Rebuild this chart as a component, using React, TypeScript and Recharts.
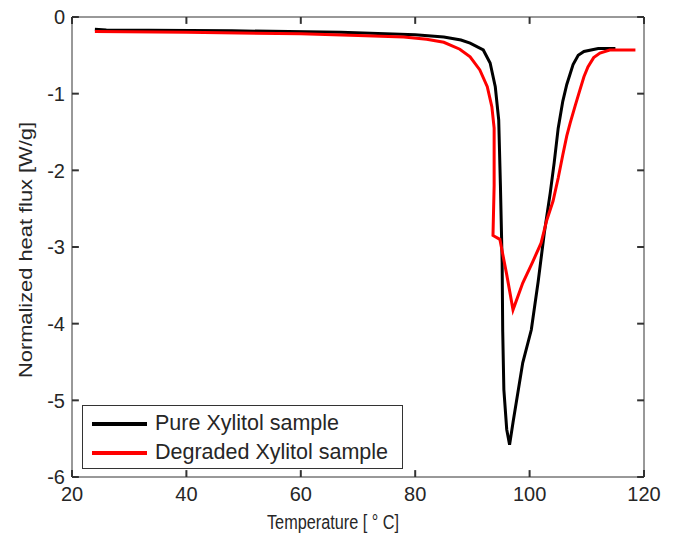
import { LineChart, Line, XAxis, YAxis, ReferenceLine } from "recharts";

const xTicks = [20, 40, 60, 80, 100, 120];
const yTicks = [-6, -5, -4, -3, -2, -1, 0];

// Pure Xylitol sample (black)
const pureTemp = [24, 26, 48, 67, 80, 85, 88, 89.6, 91.9, 93.1, 94.0, 94.6, 94.9, 95.2, 95.3, 95.5, 96.0, 96.5, 97.1, 98.8, 100.3, 101.5, 102.6, 103.6, 104.3, 105.0, 105.8, 106.5, 107.6, 108.5, 109.5, 112, 115];
const pureFlux = [-0.16, -0.17, -0.18, -0.2, -0.23, -0.26, -0.3, -0.34, -0.43, -0.6, -0.91, -1.34, -2.2, -3.2, -4.1, -4.86, -5.38, -5.58, -5.29, -4.51, -4.08, -3.45, -2.8, -2.3, -1.9, -1.45, -1.1, -0.88, -0.62, -0.5, -0.45, -0.41, -0.41];

// Degraded Xylitol sample (red)
const degTemp = [24, 40, 60, 70, 78, 82, 85, 87.8, 89.6, 91.3, 92.6, 93.4, 93.8, 93.8, 93.6, 94.8, 96.0, 97.1, 98.8, 100.5, 102.0, 103.0, 104.1, 105.0, 105.8, 106.5, 107.1, 108.0, 108.8, 109.5, 110.2, 111.2, 112.3, 114, 118.5];
const degFlux = [-0.19, -0.2, -0.22, -0.24, -0.26, -0.29, -0.33, -0.42, -0.52, -0.69, -0.91, -1.17, -1.45, -2.2, -2.85, -2.9, -3.36, -3.82, -3.47, -3.2, -2.95, -2.65, -2.4, -2.1, -1.8, -1.55, -1.38, -1.15, -0.95, -0.78, -0.65, -0.53, -0.47, -0.43, -0.43];

const seriesNames = ["Pure Xylitol sample", "Degraded Xylitol sample"];
const seriesColors = ["#000000", "#ff0000"];

const pureData = pureTemp.map((t, i) => ({ t, v: pureFlux[i] }));
const degData = degTemp.map((t, i) => ({ t, v: degFlux[i] }));

const FONT = "'Liberation Sans', Arial, sans-serif";
const AXIS = "#333333";
const TEXT = "#262626";
const X_MARGIN = 10;
const Y_MARGIN = 7;
// inward tick length expressed in axis units (about 7px each way)
const TICK_DX = 1.2;
const TICK_DY = 0.09;

function BottomTick({ x, y, payload }: any) {
  return (
    <text x={x} y={y} dy="0.72em" textAnchor="middle" fill={TEXT} fontSize={20} fontFamily={FONT}>
      {payload.value}
    </text>
  );
}

function LeftTick({ x, y, payload }: any) {
  return (
    <text x={x} y={y} dy="0.36em" textAnchor="end" fill={TEXT} fontSize={20} fontFamily={FONT}>
      {payload.value}
    </text>
  );
}

function XLabel({ viewBox }: any) {
  const cx = viewBox.x + viewBox.width / 2 - 25;
  return (
    <text x={cx} y={529} textAnchor="middle" fill={TEXT} fontSize={20} fontFamily={FONT} textLength={132} lengthAdjust="spacingAndGlyphs">
      Temperature [ ° C]
    </text>
  );
}

function YLabel({ viewBox }: any) {
  const cy = viewBox.y + viewBox.height / 2 + 3;
  const cx = 26;
  return (
    <text
      x={cx}
      y={cy}
      transform={`rotate(-90 ${cx} ${cy})`}
      textAnchor="middle"
      dominantBaseline="central"
      fill={TEXT}
      fontSize={18}
      fontFamily={FONT}
      textLength={256}
      lengthAdjust="spacingAndGlyphs"
    >
      Normalized heat flux [W/g]
    </text>
  );
}

function LegendBox() {
  return (
    <div
      style={{
        position: "absolute",
        left: 82,
        top: 405,
        width: 321,
        height: 64,
        border: `1px solid ${AXIS}`,
        background: "#fff",
        boxSizing: "border-box",
        padding: "3px 0 0 9px",
        fontFamily: FONT,
        fontSize: 21.5,
        color: TEXT,
      }}
    >
      {seriesNames.map((name, i) => (
        <div key={name} style={{ display: "flex", alignItems: "center", height: 29 }}>
          <div style={{ width: 55, height: 4, background: seriesColors[i], marginRight: 8 }} />
          <span>{name}</span>
        </div>
      ))}
    </div>
  );
}

export default function App() {
  return (
    <div style={{ position: "absolute", left: 0, top: 0, width: 673, height: 536, background: "#fff" }}>
      <LineChart width={673} height={536} margin={{ top: 16, right: 28, left: 0, bottom: 0 }}>
        <XAxis
          xAxisId="b"
          type="number"
          dataKey="t"
          domain={[20, 120]}
          ticks={xTicks}
          allowDataOverflow
          height={59}
          stroke={AXIS}
          tickLine={false}
          tickSize={0}
          tickMargin={X_MARGIN}
          tick={BottomTick}
          label={XLabel}
        />
        <XAxis
          xAxisId="t"
          orientation="top"
          type="number"
          dataKey="t"
          domain={[20, 120]}
          ticks={xTicks}
          allowDataOverflow
          height={1}
          stroke={AXIS}
          tickLine={false}
          tick={false}
        />
        <YAxis
          yAxisId="l"
          type="number"
          domain={[-6, 0]}
          ticks={yTicks}
          allowDataOverflow
          width={72}
          stroke={AXIS}
          tickLine={false}
          tickSize={0}
          tickMargin={Y_MARGIN}
          tick={LeftTick}
          label={YLabel}
        />
        <YAxis
          yAxisId="r"
          orientation="right"
          type="number"
          domain={[-6, 0]}
          ticks={yTicks}
          allowDataOverflow
          width={1}
          stroke={AXIS}
          tickLine={false}
          tick={false}
        />
        {xTicks.map((t) => (
          <ReferenceLine
            key={`xb${t}`}
            xAxisId="b"
            yAxisId="l"
            segment={[{ x: t, y: -6 }, { x: t, y: -6 + TICK_DY }]}
            stroke={AXIS}
            strokeWidth={2}
            ifOverflow="visible"
          />
        ))}
        {xTicks.map((t) => (
          <ReferenceLine
            key={`xt${t}`}
            xAxisId="b"
            yAxisId="l"
            segment={[{ x: t, y: 0 }, { x: t, y: -TICK_DY }]}
            stroke={AXIS}
            strokeWidth={2}
            ifOverflow="visible"
          />
        ))}
        {yTicks.map((t) => (
          <ReferenceLine
            key={`yl${t}`}
            xAxisId="b"
            yAxisId="l"
            segment={[{ x: 20, y: t }, { x: 20 + TICK_DX, y: t }]}
            stroke={AXIS}
            strokeWidth={2}
            ifOverflow="visible"
          />
        ))}
        {yTicks.map((t) => (
          <ReferenceLine
            key={`yr${t}`}
            xAxisId="b"
            yAxisId="l"
            segment={[{ x: 120, y: t }, { x: 120 - TICK_DX, y: t }]}
            stroke={AXIS}
            strokeWidth={2}
            ifOverflow="visible"
          />
        ))}
        <Line
          xAxisId="b"
          yAxisId="l"
          data={pureData}
          dataKey="v"
          name={seriesNames[0]}
          stroke={seriesColors[0]}
          strokeWidth={3}
          dot={false}
          type="linear"
          isAnimationActive={false}
        />
        <Line
          xAxisId="b"
          yAxisId="l"
          data={degData}
          dataKey="v"
          name={seriesNames[1]}
          stroke={seriesColors[1]}
          strokeWidth={3}
          dot={false}
          type="linear"
          isAnimationActive={false}
        />
      </LineChart>
      <LegendBox />
    </div>
  );
}
